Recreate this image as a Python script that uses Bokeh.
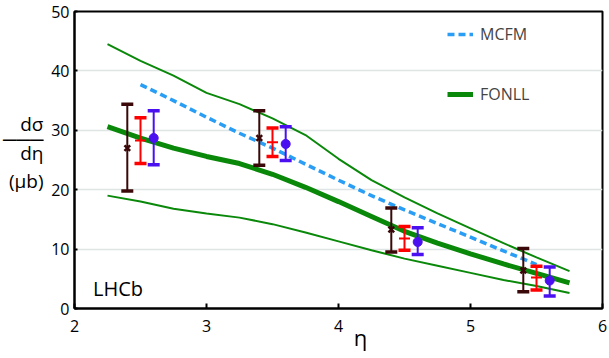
from bokeh.plotting import figure
from bokeh.models import Label, Legend, LegendItem, FixedTicker, ColumnDataSource, LinearAxis
from bokeh.embed import file_html
from bokeh.resources import INLINE

# ---- data ----
eta_brown = [2.4, 3.4, 4.4, 5.4]
val_brown = [27.0, 28.7, 13.3, 6.4]
lo_brown = [19.8, 24.1, 9.5, 2.8]
hi_brown = [34.4, 33.3, 16.9, 10.1]

eta_red = [2.5, 3.5, 4.5, 5.5]
val_red = [28.3, 28.0, 11.8, 5.2]
lo_red = [24.4, 25.6, 9.8, 3.1]
hi_red = [32.1, 30.4, 13.8, 7.1]

eta_blue = [2.6, 3.6, 4.6, 5.6]
val_blue = [28.7, 27.7, 11.2, 4.7]
lo_blue = [24.2, 24.9, 9.1, 2.1]
hi_blue = [33.3, 30.6, 13.6, 7.0]

eta_fonll = [2.25, 2.5, 2.75, 3.0, 3.25, 3.5, 3.75, 4.0, 4.25, 4.5, 4.75, 5.0, 5.25, 5.5, 5.75]
fonll_central = [30.6, 28.7, 27.0, 25.6, 24.4, 22.6, 20.4, 18.0, 15.5, 13.0, 11.0, 9.2, 7.5, 5.9, 4.3]
fonll_upper = [44.5, 41.7, 39.2, 36.3, 34.4, 32.0, 29.2, 25.2, 21.6, 18.7, 16.0, 13.5, 11.0, 8.6, 6.3]
fonll_lower = [19.0, 18.0, 16.8, 16.0, 15.3, 14.2, 12.8, 11.3, 9.8, 8.4, 7.2, 6.0, 4.8, 3.8, 2.6]

eta_mcfm = [2.5, 2.75, 3.0, 3.25, 3.5, 3.75, 4.0, 4.25, 4.5, 4.75, 5.0, 5.25, 5.5]
mcfm = [37.7, 35.0, 32.2, 29.5, 27.0, 24.3, 21.6, 19.0, 16.6, 14.3, 12.0, 9.7, 7.4]

x_ticks = [2, 3, 4, 5, 6]
y_ticks = [0, 10, 20, 30, 40, 50]

FONT = "Open Sans"
BROWN = "#3a0808"
RED = "#ff0000"
BLUE = "#4a10f0"
GREEN = "#0a880a"
MCFM_C = "#2a9df4"

p = figure(width=609, height=358, x_range=(2, 6), y_range=(0, 50),
           output_backend="svg", toolbar_location=None,
           min_border_left=69, min_border_right=7, min_border_top=11, min_border_bottom=50)

p.background_fill_color = "white"
p.border_fill_color = "white"
p.outline_line_color = "black"
p.outline_line_width = 2

p.xgrid.visible = False
p.ygrid.grid_line_color = "#dfe5e5"
p.ygrid.grid_line_width = 1.5
p.ygrid.ticker = FixedTicker(ticks=y_ticks)

for ax in (p.xaxis, p.yaxis):
    ax.axis_line_color = "black"
    ax.axis_line_width = 2
    ax.major_tick_out = 0
    ax.minor_tick_line_color = None
    ax.major_label_text_font = FONT
    ax.major_label_text_font_size = "16px"
    ax.major_label_text_color = "black"
    ax.major_tick_line_color = "black"
    ax.major_tick_line_width = 2

p.xaxis.ticker = FixedTicker(ticks=x_ticks)
p.yaxis.ticker = FixedTicker(ticks=y_ticks)
p.xaxis.major_tick_in = 5
p.yaxis.major_tick_in = 3
p.xaxis.major_label_standoff = 11
p.yaxis.major_label_standoff = 5

# eta label on the main x axis, pulled up beside the tick labels
p.xaxis.axis_label = "\u2003\u2003η"
p.xaxis.axis_label_text_font = FONT
p.xaxis.axis_label_text_font_size = "22px"
p.xaxis.axis_label_text_font_style = "normal"
p.xaxis.axis_label_text_color = "black"
p.xaxis.axis_label_standoff = -13

# y label (second left axis, horizontal multi-line label)
y_axis2 = LinearAxis()
y_axis2.ticker = FixedTicker(ticks=[])
y_axis2.axis_line_color = None
y_axis2.major_tick_line_color = None
y_axis2.minor_tick_line_color = None
y_axis2.major_label_text_color = None
y_axis2.axis_label = "dσ\n\u2500\u2500\u2500\ndη\n\u00a0\n(μb)\n\u00a0"
y_axis2.axis_label_text_font = FONT
y_axis2.axis_label_text_font_size = "19px"
y_axis2.axis_label_text_font_style = "normal"
y_axis2.axis_label_text_color = "black"
y_axis2.axis_label_standoff = 5
try:
    y_axis2.axis_label_orientation = "horizontal"
except Exception:
    pass
try:
    y_axis2.axis_label_text_line_height = 0.55
except Exception:
    pass
try:
    y_axis2.axis_label_text_align = "center"
except Exception:
    pass
p.add_layout(y_axis2, "left")

# FONLL band lines
p.line(eta_fonll, fonll_upper, line_color=GREEN, line_width=2)
p.line(eta_fonll, fonll_lower, line_color=GREEN, line_width=2)
r_fonll = p.line(eta_fonll, fonll_central, line_color=GREEN, line_width=5)
# MCFM
r_mcfm = p.line(eta_mcfm, mcfm, line_color=MCFM_C, line_width=3.5, line_dash="7 4")

# error bars
def errbars(xs, ys, lo, hi, color):
    src = ColumnDataSource(dict(x=xs, y=ys, lo=lo, hi=hi))
    p.segment(x0="x", y0="lo", x1="x", y1="hi", source=src, line_color=color, line_width=2)
    p.dash(x="x", y="lo", source=src, size=12, line_color=color, line_width=3.5)
    p.dash(x="x", y="hi", source=src, size=12, line_color=color, line_width=3.5)
    return src

s_b = errbars(eta_brown, val_brown, lo_brown, hi_brown, BROWN)
p.x(x="x", y="y", source=s_b, size=8, line_color=BROWN, line_width=2.5)
s_r = errbars(eta_red, val_red, lo_red, hi_red, RED)
p.dash(x="x", y="y", source=s_r, size=11, line_color=RED, line_width=2)
s_bl = errbars(eta_blue, val_blue, lo_blue, hi_blue, BLUE)
p.scatter(x="x", y="y", source=s_bl, size=9, marker="circle", fill_color=BLUE, line_color=BLUE)

# legend
legend = Legend(items=[LegendItem(label="MCFM", renderers=[r_mcfm]),
                       LegendItem(label="FONLL", renderers=[r_fonll])],
                location=(373, 203), padding=0, margin=0, spacing=38,
                glyph_width=26, glyph_height=20, label_standoff=7,
                label_text_font=FONT, label_text_font_size="16px",
                border_line_alpha=0, background_fill_alpha=0)
p.add_layout(legend)

p.add_layout(Label(x=2.14, y=3.4, text="LHCb", text_font=FONT, text_font_size="20px",
                   text_baseline="alphabetic", text_color="black"))

open("out.html", "w").write(file_html(p, INLINE))
